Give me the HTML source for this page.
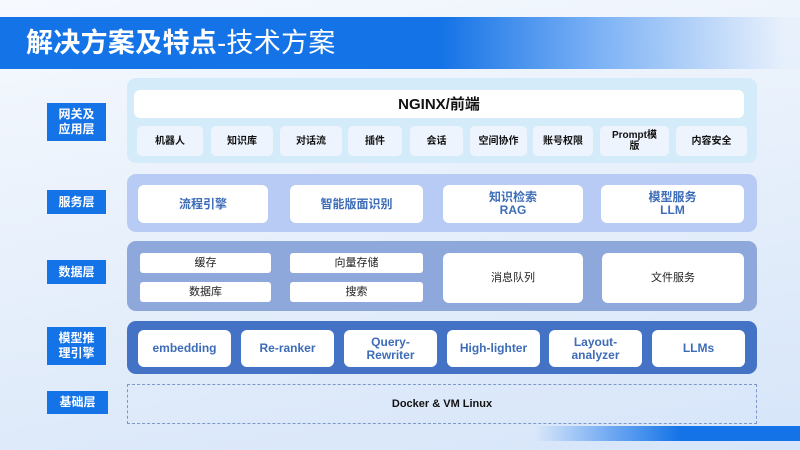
<!DOCTYPE html>
<html><head><meta charset="utf-8"><style>
*{margin:0;padding:0;box-sizing:border-box}
body{width:800px;height:450px;overflow:hidden;position:relative;font-family:"Liberation Sans","Noto Sans CJK SC",sans-serif;background:linear-gradient(170deg,#f6f9fe 0%,#e6effb 50%,#d6e5f9 100%)}
.a{position:absolute}
.title{left:0;top:17px;width:800px;height:52px;background:linear-gradient(90deg,#1473e6 0%,#1473e6 55%,#7db2f5 75%,rgba(220,234,252,0.3) 98%)}
.title span{position:absolute;left:26px;top:8px;color:#fff;font-size:27px;font-weight:bold;line-height:36px;white-space:nowrap;letter-spacing:0.3px}
.title span i{font-style:normal;font-weight:normal}
.lab{background:#1473e6;color:#fff;font-weight:bold;font-size:12px;display:flex;align-items:center;justify-content:center;text-align:center;line-height:15px}
.cont{border-radius:9px}
.b{background:#fff;border-radius:6px;display:flex;align-items:center;justify-content:center;text-align:center;font-weight:bold;font-size:12px;line-height:13px}
.s{background:#eef4fd;font-size:10px;color:#111;border-radius:5px;line-height:11px}
.bl{color:#3d6cb8}
.n{font-weight:normal;font-size:11px;color:#222;border-radius:3px}
</style></head><body>
<div class="a title"><span>解决方案及特点<i>-技术方案</i></span></div>

<div class="a lab" style="left:47px;top:103px;width:59px;height:38px">网关及<br>应用层</div>
<div class="a lab" style="left:47px;top:190px;width:59px;height:24px">服务层</div>
<div class="a lab" style="left:47px;top:260px;width:59px;height:24px">数据层</div>
<div class="a lab" style="left:47px;top:327px;width:59px;height:38px">模型推<br>理引擎</div>
<div class="a lab" style="left:47px;top:391px;width:61px;height:23px">基础层</div>

<div class="a cont" style="left:127px;top:78px;width:630px;height:85px;background:#d4ebf9"></div>
<div class="a b" style="left:134px;top:90px;width:610px;height:28px;font-size:15px;color:#111">NGINX/前端</div>
<div class="a b s" style="left:137px;top:126px;width:66px;height:30px">机器人</div>
<div class="a b s" style="left:211px;top:126px;width:62px;height:30px">知识库</div>
<div class="a b s" style="left:280px;top:126px;width:62px;height:30px">对话流</div>
<div class="a b s" style="left:348px;top:126px;width:54px;height:30px">插件</div>
<div class="a b s" style="left:410px;top:126px;width:53px;height:30px">会话</div>
<div class="a b s" style="left:470px;top:126px;width:57px;height:30px">空间协作</div>
<div class="a b s" style="left:533px;top:126px;width:60px;height:30px">账号权限</div>
<div class="a b s" style="left:600px;top:126px;width:69px;height:30px">Prompt模<br>版</div>
<div class="a b s" style="left:676px;top:126px;width:71px;height:30px">内容安全</div>

<div class="a cont" style="left:127px;top:174px;width:630px;height:58px;background:#b8cbf4"></div>
<div class="a b bl" style="left:138px;top:185px;width:130px;height:38px">流程引擎</div>
<div class="a b bl" style="left:290px;top:185px;width:133px;height:38px">智能版面识别</div>
<div class="a b bl" style="left:443px;top:185px;width:140px;height:38px">知识检索<br>RAG</div>
<div class="a b bl" style="left:601px;top:185px;width:143px;height:38px">模型服务<br>LLM</div>

<div class="a cont" style="left:127px;top:241px;width:630px;height:70px;background:#8fa8db"></div>
<div class="a b n" style="left:140px;top:253px;width:131px;height:20px">缓存</div>
<div class="a b n" style="left:140px;top:282px;width:131px;height:20px">数据库</div>
<div class="a b n" style="left:290px;top:253px;width:133px;height:20px">向量存储</div>
<div class="a b n" style="left:290px;top:282px;width:133px;height:20px">搜索</div>
<div class="a b n" style="left:443px;top:253px;width:140px;height:50px;border-radius:6px">消息队列</div>
<div class="a b n" style="left:602px;top:253px;width:142px;height:50px;border-radius:6px">文件服务</div>

<div class="a cont" style="left:127px;top:321px;width:630px;height:53px;background:#4472c4"></div>
<div class="a b bl" style="left:138px;top:330px;width:93px;height:37px">embedding</div>
<div class="a b bl" style="left:241px;top:330px;width:93px;height:37px">Re-ranker</div>
<div class="a b bl" style="left:344px;top:330px;width:93px;height:37px">Query-<br>Rewriter</div>
<div class="a b bl" style="left:447px;top:330px;width:93px;height:37px">High-lighter</div>
<div class="a b bl" style="left:549px;top:330px;width:93px;height:37px">Layout-<br>analyzer</div>
<div class="a b bl" style="left:652px;top:330px;width:93px;height:37px">LLMs</div>

<div class="a" style="left:127px;top:384px;width:630px;height:40px;border:1px dashed #7c98c8;display:flex;align-items:center;justify-content:center;font-size:11px;font-weight:bold;color:#111">Docker &amp; VM Linux</div>

<div class="a" style="left:535px;top:426px;width:265px;height:15px;background:linear-gradient(90deg,rgba(200,222,250,0) 0%,#6aa6f2 30%,#1473e6 55%,#1473e6 100%)"></div>
</body></html>
